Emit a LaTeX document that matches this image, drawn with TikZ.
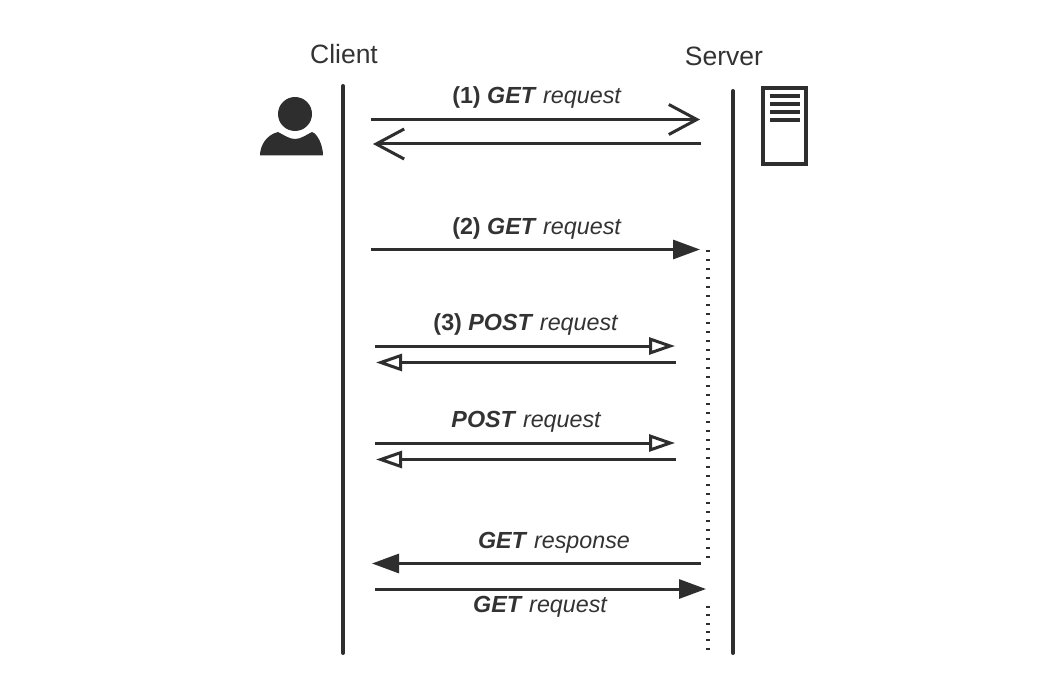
\documentclass[tikz,border=0pt]{standalone}
\usepackage{fontspec}
\setmainfont{Liberation Sans}
\usetikzlibrary{arrows.meta,positioning}
\definecolor{ink}{HTML}{2E2E2E}
\definecolor{labelink}{HTML}{333333}
\begin{document}
\begin{tikzpicture}[x=1pt,y=-1pt,
life line/.style={draw=ink,line width=4pt,line cap=round},
msg/.style={draw=ink,line width=3pt},
open msg/.style={msg,-{Straight Barb[length=28pt,width=30pt,line width=3pt]}},
full msg/.style={msg,-{Triangle[length=27pt,width=19pt,fill=ink]}},
hollow msg/.style={msg,-{Triangle[open,length=26pt,width=17pt,line width=3pt]}},
wait line/.style={draw=ink,line width=4pt,dash pattern=on 2pt off 7pt},
party/.style={font=\fontsize{26.5}{30}\selectfont,text=labelink,inner sep=0pt},
msg label/.style={font=\fontsize{23.3}{27}\selectfont,text=labelink,inner sep=0pt}]
\useasboundingbox (0,0) rectangle (1038,676);
\fill[white] (0,0) rectangle (1038,676);
% names
\node[party] (client) at (344,54.5) {Client};
\node[party] (server) at (724,56.5) {Server};
% icons
\node[circle,fill=ink,minimum size=34pt,inner sep=0pt] (head) at (295,114) {};
\fill[ink] (260,155.5) .. controls (260,146) and (266,135) .. (278,132) .. controls (284,135) and (289,139) .. (295,139) .. controls (301,139) and (306,135) .. (312,132) .. controls (318,134) and (323,146) .. (323,155.5) -- cycle;
\node[draw=ink,line width=3.5pt,fill=white,minimum width=43pt,minimum height=76pt,inner sep=0pt] (box) at (784.5,126) {};
\foreach \y in {96,104,112,120}
\draw[draw=ink,line width=3.5pt] (769.5,\y) -- (800,\y);
% life lines
\coordinate (c top) at (343,86);
\coordinate (c bot) at (343,653);
\coordinate (s top) at (733,91);
\coordinate (s bot) at (733,653);
\draw[life line] (c top) -- (c bot);
\draw[life line] (s top) -- (s bot);
\coordinate (w1) at (708,250);
\coordinate (w2) at (708,563);
\coordinate (w3) at (708,606);
\coordinate (w4) at (708,650);
\draw[wait line] (w1) -- (w2);
\draw[wait line,dash pattern=on 2pt off 6.3pt] (w3) -- (w4);
% end points
\coordinate (a1) at (371,119.5);
\coordinate (b1) at (700,119.5);
\coordinate (b2) at (701,144);
\coordinate (a2) at (373,144);
\coordinate (a3) at (371,249.5);
\coordinate (b3) at (700,249.5);
\coordinate (a4) at (375,346);
\coordinate (b4) at (675,346);
\coordinate (b5) at (676,362.5);
\coordinate (a5) at (376,362.5);
\coordinate (a6) at (375,443);
\coordinate (b6) at (675,443);
\coordinate (b7) at (676,459.5);
\coordinate (a7) at (376,459.5);
\coordinate (b8) at (701,563.5);
\coordinate (a8) at (372,563.5);
\coordinate (a9) at (375,589);
\coordinate (b9) at (706,589);
% messages
\draw[open msg] (a1) -- (b1);
\draw[open msg] (b2) -- (a2);
\draw[full msg] (a3) -- (b3);
\draw[hollow msg] (a4) -- (b4);
\draw[hollow msg] (b5) -- (a5);
\draw[hollow msg] (a6) -- (b6);
\draw[hollow msg] (b7) -- (a7);
\draw[full msg] (b8) -- (a8);
\draw[full msg] (a9) -- (b9);
% labels
\node[msg label] (l1) at (537,97.5) {\textbf{(1) \textit{GET}} \textit{request}};
\node[msg label] (l2) at (537,228.5) {\textbf{(2) \textit{GET}} \textit{request}};
\node[msg label] (l3) at (526,324.5) {\textbf{(3) \textit{POST}} \textit{request}};
\node[msg label] (l4) at (526.5,421.5) {\textbf{\textit{POST}} \textit{request}};
\node[msg label] (l5) at (554,542.5) {\textbf{\textit{GET}} \textit{response}};
\node[msg label] (l6) at (540.5,607) {\textbf{\textit{GET}} \textit{request}};
\end{tikzpicture}
\end{document}
